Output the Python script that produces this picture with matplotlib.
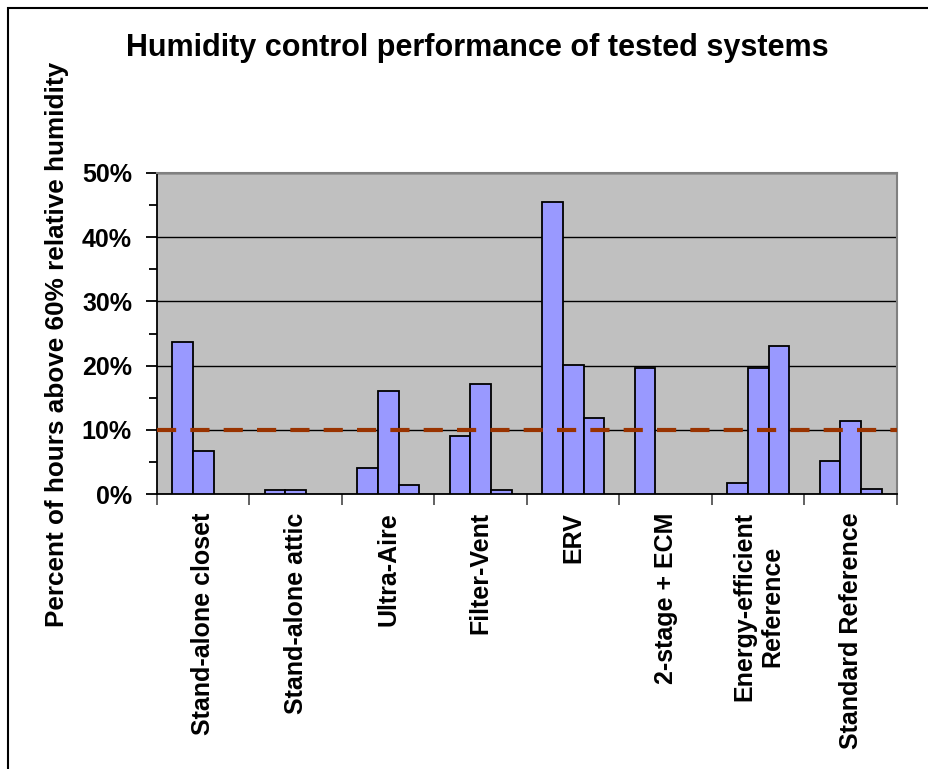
import numpy as np
import matplotlib.pyplot as plt
from matplotlib.ticker import MultipleLocator, FuncFormatter
from matplotlib.patches import Rectangle

# data (percent of hours above 60% RH)
systems = ['Stand-alone closet', 'Stand-alone attic', 'Ultra-Aire', 'Filter-Vent',
           'ERV', '2-stage + ECM', 'Energy-efficient\nReference', 'Standard Reference']
series_a = [23.7, 0.7, 4.1, 9.0, 45.4, 19.6, 1.7, 5.1]
series_b = [6.7, 0.7, 16.0, 17.2, 20.1, 0.0, 19.6, 11.4]
series_c = [0.0, 0.0, 1.45, 0.7, 11.9, 0.0, 23.1, 0.9]
target = 10.0

plt.rcParams['font.family'] = ['Liberation Sans', 'DejaVu Sans']
plt.rcParams['font.weight'] = 'bold'

fig = plt.figure(figsize=(9.29, 7.69), dpi=100)
ax = fig.add_axes([157 / 929, 1 - 494.3 / 769, 740 / 929, 321.6 / 769])

ax.set_facecolor('#C0C0C0')
x = np.arange(len(systems))
w = 1 / 4.5
for i, vals in enumerate([series_a, series_b, series_c]):
    for xi, v in zip(x, vals):
        if v > 0:
            ax.bar(xi + (i - 1) * w, v, width=w, color='#9999FF', edgecolor='black',
                   linewidth=1.3, zorder=3)

ax.axhline(target, color='#993300', lw=3, linestyle=(0, (4.6, 3.4)), zorder=4)

ax.set_xlim(-0.5, len(systems) - 0.5)
ax.set_ylim(0, 50)
ax.yaxis.set_major_locator(MultipleLocator(10))
ax.yaxis.set_minor_locator(MultipleLocator(5))
ax.yaxis.set_major_formatter(FuncFormatter(lambda v, p: f'{v:.0f}%'))
ax.grid(axis='y', which='major', color='black', lw=1, zorder=1)
ax.set_axisbelow(True)

# category boundaries get the ticks, names sit in between
ax.set_xticks(np.append(x - 0.5, len(systems) - 0.5))
ax.set_xticklabels([])
ax.set_xticks(x, minor=True)
ax.set_xticklabels(systems, minor=True, rotation=90, fontsize=18, fontweight='bold',
                   va='top', ha='center', multialignment='center')
ax.tick_params(axis='x', which='major', direction='out', length=8, width=1.3, color='#555555')
ax.tick_params(axis='x', which='minor', length=0, pad=13)
ax.tick_params(axis='y', which='major', direction='out', length=8, width=1.3,
               labelsize=18, pad=10)
ax.tick_params(axis='y', which='minor', direction='out', length=6, width=1.3)

for s in ['top', 'right']:
    ax.spines[s].set_color('#808080')
    ax.spines[s].set_linewidth(1.5)
for s in ['left', 'bottom']:
    ax.spines[s].set_color('black')
    ax.spines[s].set_linewidth(1.3)

fig.text(477 / 929, 1 - 48 / 769, 'Humidity control performance of tested systems',
         ha='center', va='center', fontsize=22, fontweight='bold')
fig.text(57 / 929, 1 - 344 / 769, 'Percent of hours above 60% relative humidity',
         ha='center', va='center', rotation=90, fontsize=18.8, fontweight='bold')

# outer chart frame (clipped at right and bottom like the original)
fig.patches.append(Rectangle((8 / 929, -0.1), 1.2, 1 - 8 / 769 + 0.1,
                             transform=fig.transFigure, fill=False,
                             edgecolor='black', lw=1.5))

fig.savefig('out.png', dpi=100)
